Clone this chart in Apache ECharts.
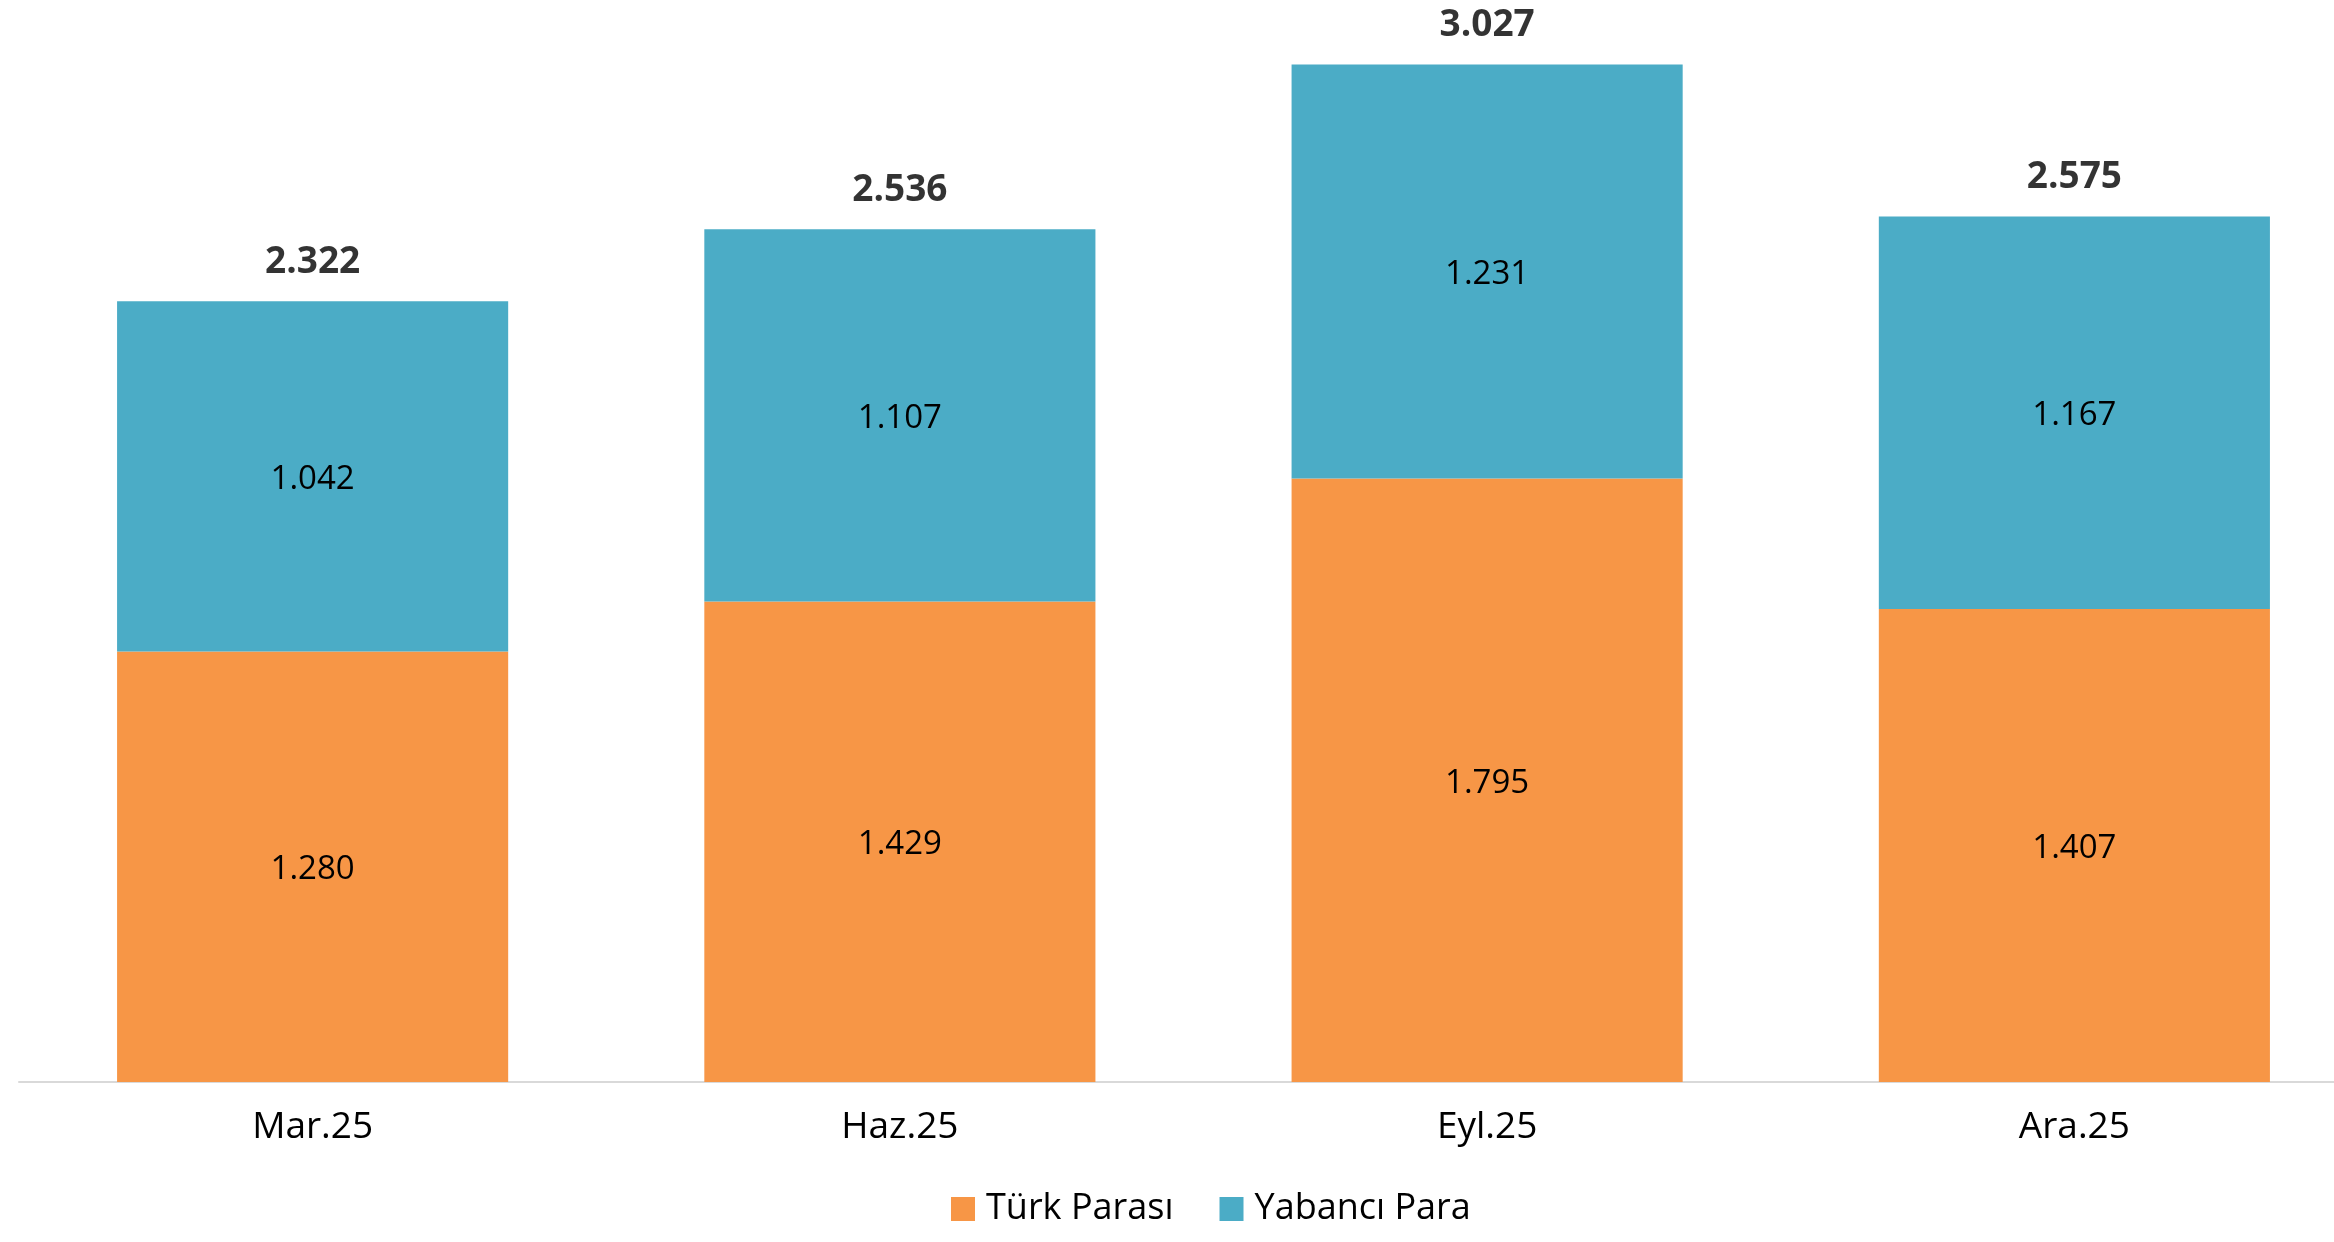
<!DOCTYPE html>
<html>
<head>
<meta charset="utf-8">
<script src="https://cdn.jsdelivr.net/npm/echarts@6/dist/echarts.min.js"></script>
<style>
html,body{margin:0;padding:0;background:#fff;}
#c{width:2334px;height:1242px;}
</style>
</head>
<body>
<div id="c"></div>
<script>
const categories = ['Mar.25', 'Haz.25', 'Eyl.25', 'Ara.25'];
const turkParasi = [1.280, 1.429, 1.795, 1.407];
const yabanciPara = [1.042, 1.107, 1.231, 1.167];
const totals = [2.322, 2.536, 3.027, 2.575];

const fmt = v => Number(v).toFixed(3);
const FONT = '"Open Sans", "Noto Sans", sans-serif';

const chart = echarts.init(document.getElementById('c'));
chart.setOption({
  animation: false,
  backgroundColor: '#ffffff',
  grid: { left: 19, width: 2349, top: 6, height: 1076, containLabel: false, outerBoundsMode: 'none' },
  legend: {
    data: ['Türk Parası', 'Yabancı Para'],
    left: 946,
    top: 1186,
    itemWidth: 24,
    itemHeight: 24,
    itemGap: 46,
    icon: 'rect',
    textStyle: { fontFamily: FONT, fontSize: 36, color: '#000', padding: [0, 0, 0, 6] }
  },
  xAxis: {
    type: 'category',
    data: categories,
    axisTick: { show: false },
    axisLine: { lineStyle: { color: '#d9d9d9', width: 2 } },
    axisLabel: { fontFamily: FONT, fontSize: 37, color: '#000', margin: 27 }
  },
  yAxis: {
    type: 'value',
    min: 0,
    max: 3.2,
    show: false,
    splitLine: { show: false }
  },
  series: [
    {
      name: 'Türk Parası',
      type: 'bar',
      stack: 'total',
      barWidth: '66.6%',
      data: turkParasi,
      itemStyle: { color: '#F79646' },
      label: { show: true, position: 'inside', offset: [0, 3], formatter: p => fmt(p.value), fontFamily: FONT, fontSize: 33, color: '#000' }
    },
    {
      name: 'Yabancı Para',
      type: 'bar',
      stack: 'total',
      data: yabanciPara,
      itemStyle: { color: '#4BACC6' },
      label: { show: true, position: 'inside', offset: [0, 3], formatter: p => fmt(p.value), fontFamily: FONT, fontSize: 33, color: '#000' }
    },
    {
      name: 'Toplam',
      type: 'scatter',
      data: totals,
      symbolSize: 0,
      silent: true,
      label: { show: true, position: 'top', distance: 20, formatter: p => fmt(p.value), fontFamily: FONT, fontSize: 37, fontWeight: 'bold', color: '#000' }
    }
  ]
});
</script>
</body>
</html>
